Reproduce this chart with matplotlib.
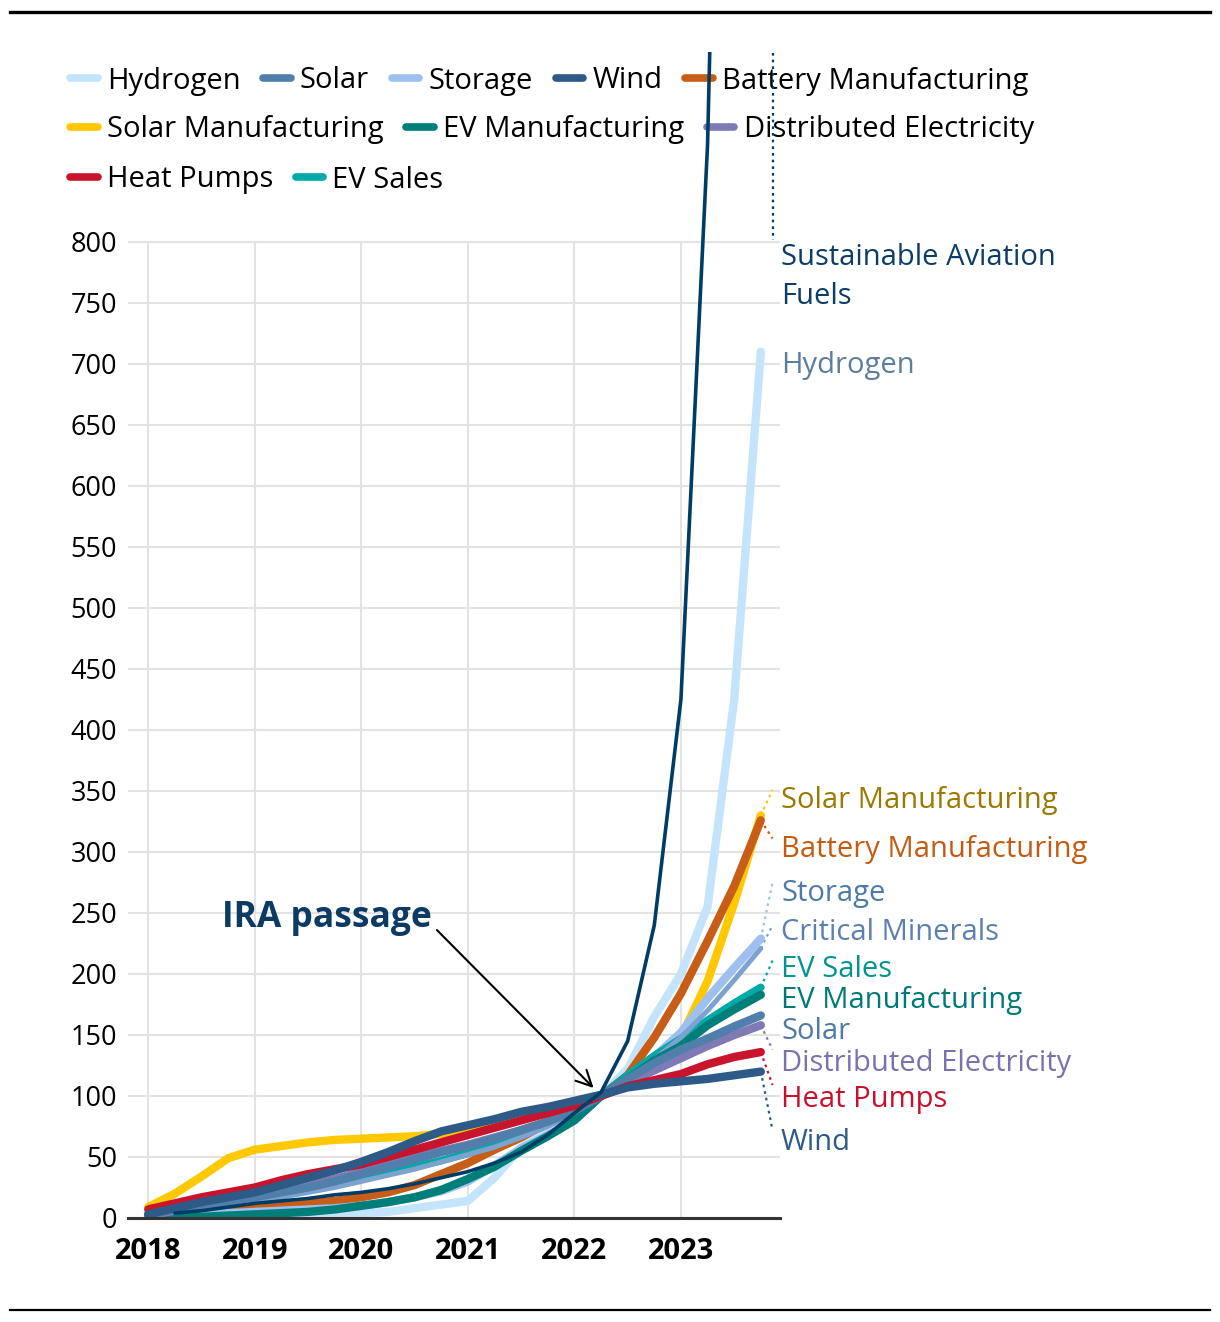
import numpy as np
import matplotlib
matplotlib.use("Agg")
import matplotlib.pyplot as plt
from matplotlib.lines import Line2D

plt.rcParams['font.family'] = ['Open Sans', 'DejaVu Sans']

# quarterly index values (crossing = 100)
quarters = [2018.0, 2018.25, 2018.5, 2018.75, 2019.0, 2019.25, 2019.5, 2019.75,
            2020.0, 2020.25, 2020.5, 2020.75, 2021.0, 2021.25, 2021.5, 2021.75,
            2022.0, 2022.25, 2022.5, 2022.75, 2023.0, 2023.25, 2023.5, 2023.75]
nan = np.nan

hydrogen = [0, 0, 1, 1, 1, 2, 2, 3, 4, 5, 8, 11, 14, 33, 58, 70, 85, 100, 122, 165, 200, 255, 425, 710]
solar_mfg = [9, 20, 34, 49, 56, 59, 62, 64, 65, 66, 67, 69, 72, 77, 83, 88, 94, 100, 112, 124, 148, 194, 258, 330]
battery_mfg = [1, 3, 4, 6, 8, 10, 12, 14, 17, 21, 27, 36, 45, 56, 66, 78, 89, 100, 117, 148, 184, 227, 272, 326]
storage = [1, 2, 3, 4, 5, 6, 7, 8, 10, 13, 17, 22, 30, 43, 57, 68, 80, 100, 113, 132, 152, 180, 205, 229]
ev_sales = [2, 5, 8, 11, 15, 19, 23, 28, 33, 37, 42, 47, 53, 60, 68, 77, 87, 100, 117, 133, 147, 162, 176, 189]
critical = [2, 5, 8, 11, 14, 17, 21, 25, 30, 35, 40, 46, 52, 58, 66, 75, 86, 100, 113, 130, 148, 170, 195, 221]
ev_mfg = [0, 1, 1, 2, 3, 4, 5, 7, 10, 13, 17, 23, 32, 42, 55, 67, 80, 100, 114, 129, 141, 158, 171, 183]
dist_elec = [2, 6, 10, 14, 18, 22, 27, 32, 38, 44, 50, 55, 60, 66, 72, 79, 88, 100, 111, 121, 131, 141, 150, 158]
solar = [3, 7, 11, 14, 17, 21, 25, 30, 36, 42, 48, 54, 59, 65, 72, 79, 88, 100, 114, 127, 138, 147, 157, 166]
heat_pumps = [7, 12, 17, 21, 25, 31, 36, 40, 44, 50, 56, 62, 68, 74, 80, 86, 92, 100, 108, 113, 118, 126, 132, 136]
wind = [3, 8, 13, 17, 21, 27, 33, 39, 46, 54, 63, 71, 76, 81, 87, 91, 96, 101, 107, 110, 112, 114, 117, 120]
saf = [nan, 4, 6, 9, 12, 14, 16, 19, 21, 24, 28, 33, 38, 45, 54, 68, 86, 103, 145, 240, 425, 880, 1800, 3000]

# name, values, line colour, width, label text colour, label y, leader y (None = no leader)
series = [
    ("Hydrogen", hydrogen, "#c4e4fb", 6.0, "#5b7e9e", 699, None),
    ("Solar Manufacturing", solar_mfg, "#ffc800", 6.0, "#9c7900", 342, 351),
    ("Battery Manufacturing", battery_mfg, "#c75d16", 6.0, "#c55a11", 302, 311),
    ("Storage", storage, "#9dc0ee", 6.0, "#5079ab", 266, 275),
    ("EV Sales", ev_sales, "#00aaa8", 5.6, "#00948f", 204, 211),
    ("Critical Minerals", critical, "#7ea2d0", 3.6, "#5a7fb0", 234, 240),
    ("EV Manufacturing", ev_mfg, "#007e79", 6.0, "#007a76", 178, None),
    ("Distributed Electricity", dist_elec, "#7f7ab5", 6.0, "#7873b0", 127, 138),
    ("Solar", solar, "#507fab", 6.0, "#4f7aa8", 153, None),
    ("Heat Pumps", heat_pumps, "#c8142c", 6.0, "#c8102e", 97.5, 109),
    ("Wind", wind, "#2e5a87", 6.0, "#2e5a87", 61.5, 72),
    ("Sustainable Aviation Fuels", saf, "#003d66", 2.6, "#0b3d66", None, None),
]

legend_rows = [
    ["Hydrogen", "Solar", "Storage", "Wind", "Battery Manufacturing"],
    ["Solar Manufacturing", "EV Manufacturing", "Distributed Electricity"],
    ["Heat Pumps", "EV Sales"],
]

year_ticks = [2018, 2019, 2020, 2021, 2022, 2023]
y_ticks = list(range(0, 801, 50))

LABEL_FS = 21

fig = plt.figure(figsize=(12.2, 13.22), dpi=100)
ax = fig.add_axes([128 / 1220, 104 / 1322, 652 / 1220, 1166 / 1322])
ax.patch.set_visible(False)
ax.set_xlim(2017.81, 2023.93)
ax.set_ylim(0, 955.7)

# grid
for yv in y_ticks:
    ax.axhline(yv, color="#e3e3e3", lw=1.5, zorder=0)
ax.vlines(year_ticks, 0, 800, color="#e3e3e3", lw=1.5, zorder=0)

colors = {}
for i, (name, vals, col, lw, tcol, ly, leader) in enumerate(series):
    colors[name] = col
    v = np.array(vals, dtype=float)
    ax.plot(quarters, v, color=col, lw=lw, solid_capstyle="round",
            solid_joinstyle="round", zorder=3 + i)
    xe, ye = quarters[-1], v[-1]
    if leader is not None:
        ax.plot([xe, 2023.86], [ye, leader], color=col, lw=1.6,
                ls=(0, (1.2, 1.8)), clip_on=False, zorder=2)
    if ly is not None:
        ax.text(2023.94, ly, name, color=tcol, fontsize=LABEL_FS,
                ha="left", va="center", clip_on=False)

# SAF label + leader from top
ax.plot([2023.86, 2023.86], [955, 802], color="#003d66", lw=1.6,
        ls=(0, (1.2, 1.8)), clip_on=False, zorder=2)
ax.text(2023.94, 787, "Sustainable Aviation", color="#0b3d66", fontsize=LABEL_FS,
        ha="left", va="center", clip_on=False)
ax.text(2023.94, 755, "Fuels", color="#0b3d66", fontsize=LABEL_FS,
        ha="left", va="center", clip_on=False)

# IRA annotation
ax.text(2018.69, 246, "IRA passage", color="#0b3a63", fontsize=25.5,
        fontweight="bold", ha="left", va="center")
ax.annotate("", xy=(2022.18, 106.6), xytext=(2020.71, 236),
            arrowprops=dict(arrowstyle="->", color="black", lw=1.5,
                            mutation_scale=28, shrinkA=0, shrinkB=0),
            zorder=20)

# axes styling
for s in ["top", "right", "left"]:
    ax.spines[s].set_visible(False)
ax.spines["bottom"].set_color("#333333")
ax.spines["bottom"].set_linewidth(2.2)
ax.spines["bottom"].set_zorder(30)
ax.set_yticks(y_ticks)
ax.set_yticklabels([str(t) for t in y_ticks])
ax.set_xticks(year_ticks)
ax.set_xticklabels([str(t) for t in year_ticks], fontweight="bold")
ax.tick_params(axis="y", length=0, pad=8, labelsize=19.5)
ax.tick_params(axis="x", length=0, pad=14, labelsize=21)

# legend in three flowing rows
row_y = [81, 130, 180]
for names, yy in zip(legend_rows, row_y):
    handles = [Line2D([], [], color=colors[n], lw=5.5, solid_capstyle="round") for n in names]
    leg = fig.legend(handles, names, loc="center left",
                     bbox_to_anchor=(70 / 1220, 1 - yy / 1322), ncol=len(names),
                     frameon=False, fontsize=LABEL_FS, handlelength=0.95,
                     handletextpad=0.31, columnspacing=0.78, borderpad=0,
                     borderaxespad=0)
    leg.set_zorder(-1)

# top and bottom rules
fig.add_artist(Line2D([10 / 1220, 1210 / 1220], [1 - 12 / 1322, 1 - 12 / 1322],
                      color="black", lw=2.4))
fig.add_artist(Line2D([10 / 1220, 1210 / 1220], [1 - 1310 / 1322, 1 - 1310 / 1322],
                      color="black", lw=1.6))

fig.savefig("out.png", dpi=100)
